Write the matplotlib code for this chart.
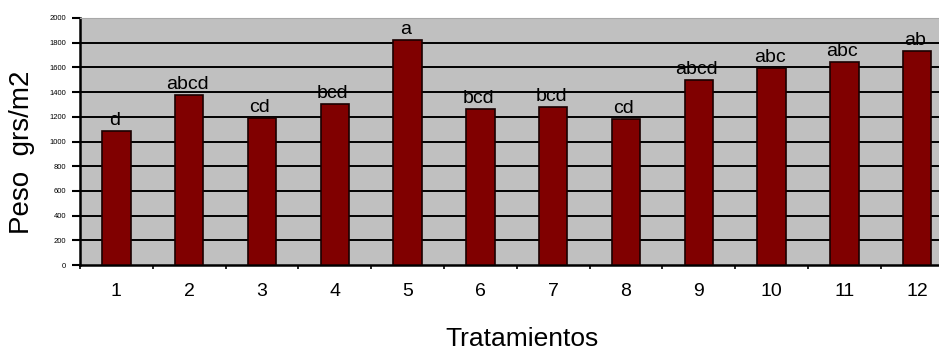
import matplotlib
matplotlib.use("Agg")
import matplotlib.pyplot as plt
import numpy as np

plt.rcParams['font.family'] = ['Liberation Sans', 'DejaVu Sans']

tratamientos = ["1", "2", "3", "4", "5", "6", "7", "8", "9", "10", "11", "12"]
peso = [1085, 1376, 1188, 1301, 1822, 1260, 1277, 1182, 1498, 1593, 1646, 1733]
letras = ["d", "abcd", "cd", "bcd", "a", "bcd", "bcd", "cd", "abcd", "abc", "abc", "ab"]
yticks = [0, 200, 400, 600, 800, 1000, 1200, 1400, 1600, 1800, 2000]

W, H = 939, 356
fig = plt.figure(figsize=(W / 100, H / 100), dpi=100)
left, right, top, bottom = 80, 953.6, 18, 265
ax = fig.add_axes([left / W, 1 - bottom / H, (right - left) / W, (bottom - top) / H])
ax.set_facecolor('#c0c0c0')

x = np.arange(1, len(tratamientos) + 1)
bars = ax.bar(x, peso, width=0.39, color='#800000', edgecolor='#1a0000', linewidth=1.2, zorder=3)

for xi, v, t in zip(x, peso, letras):
    ax.annotate(t, (xi, v), xytext=(-1.5, 1.5), textcoords='offset points',
                ha='center', va='bottom', fontsize=14, color='black', zorder=4)

ax.set_xlim(0.5, len(tratamientos) + 0.5)
ax.set_ylim(0, 2000)
ax.set_yticks(yticks)
ax.set_yticklabels([str(v) for v in yticks], fontsize=5.5)
ax.set_xticks(x)
ax.set_xticklabels(tratamientos, fontsize=14)
ax.set_xticks(np.arange(0.5, len(tratamientos) + 1, 1), minor=True)
ax.tick_params(axis='x', which='major', length=0, pad=13)
ax.tick_params(axis='x', which='minor', length=3, width=1.2, color='black', direction='out')
ax.tick_params(axis='y', which='major', length=6, width=1.5, color='black', direction='out', pad=4)

for g in yticks[1:-1]:
    ax.axhline(g, color='black', linewidth=1.4, zorder=2)

ax.spines['left'].set_linewidth(1.8)
ax.spines['bottom'].set_linewidth(1.8)
ax.spines['top'].set_color('#a8a8a8')
ax.spines['right'].set_color('#a8a8a8')

fig.text(22 / W, 1 - 152 / H, 'Peso  grs/m2', rotation=90, ha='center', va='center', fontsize=20)
fig.text(522 / W, 1 - 339 / H, 'Tratamientos', ha='center', va='center', fontsize=19)

fig.savefig('out.png', dpi=100)
